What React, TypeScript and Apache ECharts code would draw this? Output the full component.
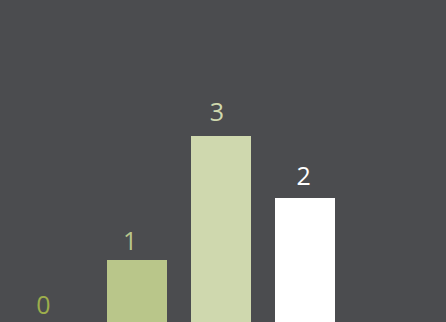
import React, { useEffect, useRef } from "react";
import * as echarts from "echarts";

const categories = ["A", "B", "C", "D"];
const values = [0, 1, 3, 2];
const colors = ["#9dae4c", "#b9c68a", "#cfd8ae", "#ffffff"];

export default function App() {
  const ref = useRef<HTMLDivElement>(null);

  useEffect(() => {
    if (!ref.current) return;
    const chart = echarts.init(ref.current, undefined, { renderer: "svg" });
    chart.setOption({
      animation: false,
      backgroundColor: "#4b4c4f",
      grid: [
        { left: 11, right: 99, top: 12, bottom: 0 },
        { left: 0, right: 99, top: 46, bottom: 18 },
      ],
      xAxis: [
        { type: "category", data: categories, gridIndex: 0, show: false },
        { type: "category", data: categories, gridIndex: 1, show: false },
      ],
      yAxis: [
        { type: "value", min: 0, max: 5, gridIndex: 0, show: false },
        { type: "value", min: 0, max: 4, gridIndex: 1, show: false },
      ],
      series: [
        {
          type: "bar",
          xAxisIndex: 0,
          yAxisIndex: 0,
          barWidth: 60,
          data: values.map((v, i) => ({ value: v, itemStyle: { color: colors[i] } })),
        },
        {
          type: "scatter",
          xAxisIndex: 1,
          yAxisIndex: 1,
          symbolSize: 1,
          itemStyle: { color: "rgba(0,0,0,0)" },
          label: {
            show: true,
            position: "inside",
            fontFamily: "Open Sans",
            fontSize: 25,
            textBorderWidth: 0,
            textBorderColor: "transparent",
            opacity: 1,
            formatter: (p: any) => String(p.value[1] ?? p.value),
          },
          data: values.map((v, i) => ({
            value: [i, v],
            label: { color: colors[i] },
          })),
        },
      ],
    });
    return () => chart.dispose();
  }, []);

  return (
    <div
      ref={ref}
      style={{ position: "fixed", left: 0, top: 0, width: 446, height: 322 }}
    />
  );
}
